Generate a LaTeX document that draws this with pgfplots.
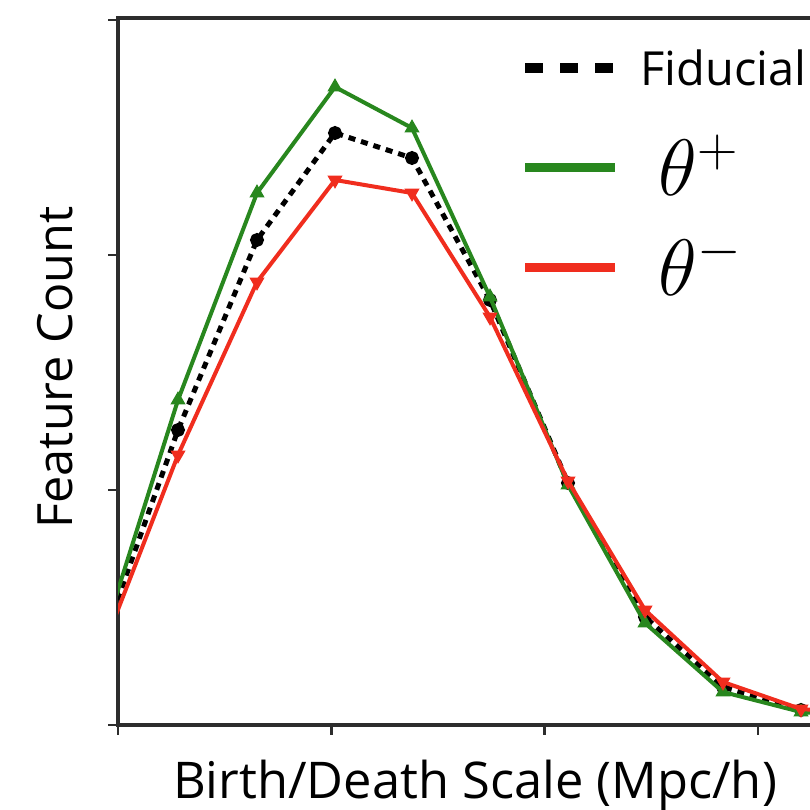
\RequirePackage{fix-cm}
\documentclass[border=0pt]{standalone}
\usepackage{fontspec}
\setmainfont{Open Sans}
\usepackage{pgfplots}
\pgfplotsset{compat=1.18}
\definecolor{mgreen}{RGB}{40,135,30}
\definecolor{mred}{RGB}{240,45,30}
\definecolor{axgray}{RGB}{45,45,45}
\begin{document}
\begin{tikzpicture}
\path[use as bounding box] (0pt,0pt) rectangle (405pt,405pt);
\clip (0pt,0pt) rectangle (405pt,405pt);
\begin{axis}[
  at={(59pt,42.5pt)}, anchor=south west,
  scale only axis, width=450pt, height=353.5pt,
  xmin=0, xmax=900, ymin=0, ymax=707,
  xtick={0,213.3,426.7,640}, ytick={0,235,470,705},
  xticklabels={}, yticklabels={},
  xtick pos=bottom, ytick pos=left,
  tick align=outside, major tick length=5pt,
  tick style={line width=1.4pt, color=axgray},
  axis line style={line width=1.6pt, color=axgray},
  clip marker paths=true,
  xlabel={Birth/Death Scale (Mpc/h)},
  ylabel={Feature Count},
  x label style={font=\fontsize{25.3}{30}\selectfont, at={(axis description cs:0.3967,-0.1033)}, anchor=base},
  y label style={font=\fontsize{24.3}{29}\selectfont, at={(axis description cs:-0.05,0.5057)}, anchor=base, rotate=0},
  legend image code/.code={\draw[#1] (0pt,0pt) -- (45pt,0pt);},
  legend style={at={(axis description cs:0.4467,0.987)}, anchor=north west,
    draw=none, fill=none, inner sep=0pt, row sep=10pt, column sep=10pt,
    nodes={inner sep=0pt, text height=34pt, text depth=6pt}},
  legend cell align=left,
]
\addplot[black, line width=2.5pt, dash pattern=on 3.5pt off 3pt, mark=*, mark size=2.2pt, mark options={solid}, forget plot]
  coordinates {(-18,76) (60,295) (139,485) (217,592) (294,567) (372,425) (450,242) (527,108) (605,38) (683,15) (761,9)};
\addplot[mgreen, line width=2pt, mark=triangle*, mark size=2.4pt, forget plot]
  coordinates {(-18,78) (60,325) (139,532) (217,638) (294,597) (372,428) (450,240) (527,102) (605,33) (683,13) (761,7)};
\addplot[mred, line width=2pt, mark=triangle*, mark size=2.4pt, mark options={rotate=180}, forget plot]
  coordinates {(-18,69) (60,270) (139,443) (217,545) (294,532) (372,408) (450,244) (527,115) (605,43) (683,16) (761,10)};
\addlegendimage{black, line width=5pt, dash pattern=on 9pt off 8.5pt}
\addlegendentry{\raisebox{5pt}{\fontsize{23.5}{28}\selectfont Fiducial}}
\addlegendimage{mgreen, line width=4.5pt}
\addlegendentry{\hspace*{9pt}\fontsize{40}{48}\selectfont$\theta^{+}$}
\addlegendimage{mred, line width=4.5pt}
\addlegendentry{\hspace*{9pt}\fontsize{40}{48}\selectfont$\theta^{-}$}
\end{axis}
\end{tikzpicture}
\end{document}
